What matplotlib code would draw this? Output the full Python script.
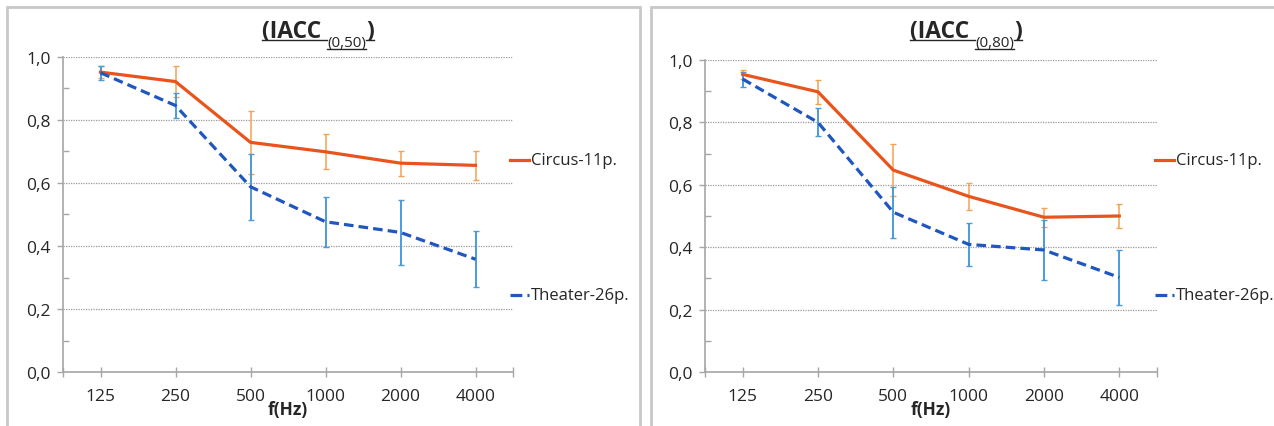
import numpy as np
import matplotlib
matplotlib.use('Agg')
import matplotlib.pyplot as plt
from matplotlib.patches import Rectangle
from matplotlib.lines import Line2D

plt.rcParams['font.family'] = ['Open Sans', 'DejaVu Sans']

freqs = ['125', '250', '500', '1000', '2000', '4000']
y_labels = ['0,0', '0,2', '0,4', '0,6', '0,8', '1,0']

# IACC (0,50)
circus_50 = [0.952, 0.922, 0.729, 0.699, 0.663, 0.656]
circus_50_err = [0.02, 0.05, 0.10, 0.055, 0.04, 0.047]
theater_50 = [0.950, 0.846, 0.588, 0.477, 0.443, 0.358]
theater_50_err = [0.022, 0.041, 0.105, 0.079, 0.104, 0.089]

# IACC (0,80)
circus_80 = [0.954, 0.898, 0.647, 0.563, 0.496, 0.500]
circus_80_err = [0.015, 0.039, 0.083, 0.044, 0.03, 0.04]
theater_80 = [0.939, 0.800, 0.512, 0.409, 0.391, 0.303]
theater_80_err = [0.024, 0.045, 0.081, 0.07, 0.096, 0.087]

W, H = 1274, 427
fig = plt.figure(figsize=(W / 100, H / 100), dpi=100)

ORANGE = '#E8541C'
BLUE = '#1F56C0'
ORANGE_ERR = '#F2A352'
BLUE_ERR = '#4A9BDC'
GRAY = '#A6A6A6'
TXT = '#262626'


def px(x, y):
	return x / W, 1 - y / H


def draw_panel(rect, circus, c_err, theater, t_err, sub, title_cx, legend_x):
	x0, y0, x1, y1 = rect
	ax = fig.add_axes([x0 / W, 1 - y1 / H, (x1 - x0) / W, (y1 - y0) / H])
	x = np.arange(len(freqs))
	ax.errorbar(x, circus, yerr=c_err, fmt='none', ecolor=ORANGE_ERR, elinewidth=1.1, capsize=2, capthick=1.0, zorder=3)
	ax.errorbar(x, theater, yerr=t_err, fmt='none', ecolor=BLUE_ERR, elinewidth=1.4, capsize=2, capthick=1.0, zorder=3)
	l1, = ax.plot(x, circus, color=ORANGE, lw=2.3, zorder=4, label='Circus-11p.')
	l2, = ax.plot(x, theater, color=BLUE, lw=2.3, ls=(0, (3, 1.6)), zorder=4, label='Theater-26p.')
	ax.set_xlim(-0.5, 5.5)
	ax.set_ylim(0, 1.0)
	ax.set_xticks(x)
	ax.set_xticklabels(freqs)
	ax.set_xticks([-0.5, 5.5], minor=True)
	ax.set_yticks(np.arange(0, 1.01, 0.2))
	ax.set_yticklabels(y_labels)
	ax.set_yticks(np.arange(0.1, 1.0, 0.2), minor=True)
	ax.tick_params(axis='x', which='both', direction='inout', length=7, width=1, color=GRAY, labelsize=12.5, labelcolor=TXT, pad=8)
	ax.tick_params(axis='y', which='major', direction='out', length=4, width=1, color=GRAY, labelsize=12.5, labelcolor=TXT, pad=5)
	ax.tick_params(axis='y', which='minor', direction='in', length=4, width=1, color=GRAY)
	for s in ['top', 'right']:
		ax.spines[s].set_visible(False)
	for s in ['left', 'bottom']:
		ax.spines[s].set_color(GRAY)
		ax.spines[s].set_linewidth(1.2)
	ax.grid(axis='y', which='major', color='#9A9A9A', ls=(0, (1, 1)), lw=0.9)
	ax.set_axisbelow(True)
	ax.set_xlabel('f(Hz)', fontsize=12.5, fontweight='bold', color=TXT, labelpad=-3)

	# legend at the right of the plot area
	for line, ly in [(l1, 161), (l2, 296)]:
		fx, fy = px(legend_x, ly)
		fig.add_artist(Line2D([fx, fx + 19 / W], [fy, fy], color=line.get_color(), lw=2.3, ls=line.get_linestyle()))
		fig.text(fx + 21 / W, fy, line.get_label(), fontsize=12, color=TXT, va='center', ha='left')

	# title with subscript and underline
	r = fig.canvas.get_renderer()
	parts = [('(IACC ', 16.5, 'bold', 0), (sub, 11, 'normal', 9), (')', 16.5, 'bold', 0)]
	texts = []
	widths = []
	for s, fs, fw, dy in parts:
		t = fig.text(0, 0, s, fontsize=fs, fontweight=fw, color=TXT, ha='left', va='baseline')
		texts.append(t)
		widths.append(t.get_window_extent(renderer=r).width)
	total = sum(widths)
	cur = title_cx - total / 2
	base = 38
	for (s, fs, fw, dy), t, w in zip(parts, texts, widths):
		t.set_position(px(cur, base + dy))
		uy = base + dy + 3
		a, b = px(cur, uy)
		c, _ = px(cur + w, uy)
		fig.add_artist(Line2D([a, c], [b, b], color=TXT, lw=1.0))
		cur += w
	return ax


# panel frames
fig.add_artist(Rectangle(px(7, 440), 633 / W, 432 / H, fill=False, ec='#C8C8C8', lw=2))
fig.add_artist(Rectangle(px(651, 440), 640 / W, 432 / H, fill=False, ec='#C8C8C8', lw=2))

draw_panel((63, 58, 513, 373), circus_50, circus_50_err, theater_50, theater_50_err, '(0,50)', 318, 510)
draw_panel((705, 61, 1157, 373), circus_80, circus_80_err, theater_80, theater_80_err, '(0,80)', 966, 1155)

fig.savefig('out.png', dpi=100)
